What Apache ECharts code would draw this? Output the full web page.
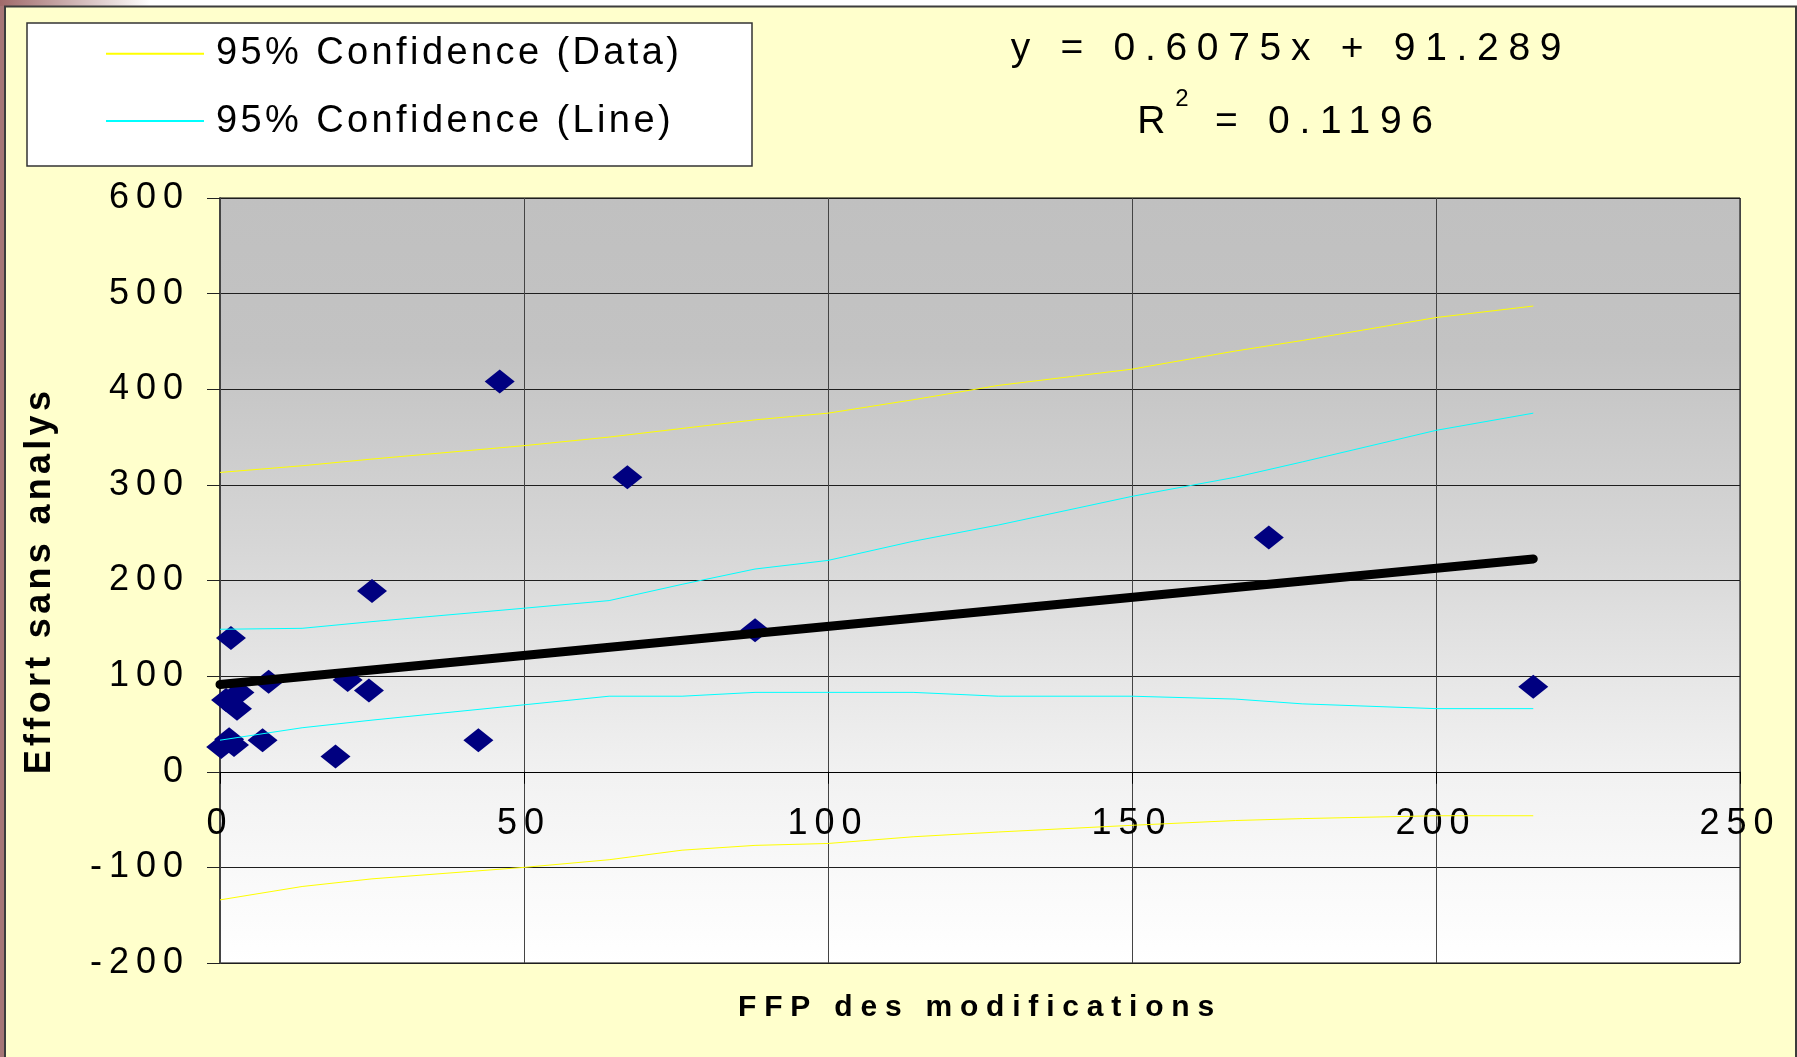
<!DOCTYPE html>
<html>
<head>
<meta charset="utf-8">
<title>FFP des modifications</title>
<script src="https://cdn.jsdelivr.net/npm/echarts@6/dist/echarts.min.js"></script>
<style>
  html, body { margin: 0; padding: 0; background: #ffffff; }
  #chart { width: 1797px; height: 1057px; }
</style>
</head>
<body>
<div id="chart"></div>
<script>
// ---- data -------------------------------------------------------------
// FFP size of each change and the effort spent without analysis
const ffp    = [46, 67, 25, 1.8, 88, 8, 21, 24.5, 1, 3.2, 2.8, 0.2, 1.5, 2.3, 7, 19, 42.5, 172.5, 216];
const effort = [408, 308, 189, 140, 148, 94, 96, 85, 75, 83, 66, 26, 34, 28, 33, 16, 33, 245, 89];

// least-squares fit shown on the chart
const slope = 0.6075;
const intercept = 91.289;
const rSquared = 0.1196;

// 95 % confidence bands sampled along the FFP axis
const bandFfp       = [0, 13.5, 25, 50, 64, 76, 88, 100, 114, 128, 150, 167, 178, 200, 216];
const dataBandUpper = [313, 320, 327, 341, 350, 359, 368, 375, 389, 404, 421, 440, 451, 475, 487];
const dataBandLower = [-134, -120, -112, -100, -92, -82, -77, -75, -68, -63, -56, -51, -49, -46, -46];
const lineBandUpper = [149, 150, 157, 171, 179, 196, 212, 221, 241, 258, 288, 308, 324, 357, 375];
const lineBandLower = [33, 46, 54, 70, 79, 79, 83, 83, 83, 79, 79, 76, 71, 66, 66];

// axis ranges
const xRange = { min: 0, max: 250, interval: 50 };
const yRange = { min: -200, max: 600, interval: 100 };

const xTitle = 'FFP des modifications';
const yTitle = 'Effort sans analys';
const bandDataName = '95% Confidence (Data)';
const bandLineName = '95% Confidence (Line)';

// ---- typography ---------------------------------------------------------
const FONT = '"Liberation Sans", Arial, Helvetica, sans-serif';

// Tracked lettering, keyed by font weight and size (px of extra spacing).
const TRACKING = [
  { bold: false, size: 36, px: 7 },    // tick labels
  { bold: false, size: 38, px: 3.4 },  // legend
  { bold: false, size: 39, px: 9.7 },  // fit equation
  { bold: false, size: 24, px: 6 },    // exponent
  { bold: true,  size: 30, px: 7.8 },  // x axis title
  { bold: true,  size: 36, px: 4.3 }   // y axis title
];
function trackingFor(font) {
  const m = /(\d+(?:\.\d+)?)px/.exec(font || '');
  if (!m) return 0;
  const size = parseFloat(m[1]);
  const bold = /bold|[6-9]00\s/.test(font);
  const t = TRACKING.find(e => e.size === size && e.bold === bold);
  return t ? t.px : 0;
}
const ctxProto = CanvasRenderingContext2D.prototype;
if ('letterSpacing' in ctxProto) {
  const fillText = ctxProto.fillText;
  const measureText = ctxProto.measureText;
  ctxProto.fillText = function (text, x, y, maxWidth) {
    this.letterSpacing = trackingFor(this.font) + 'px';
    return maxWidth === undefined
      ? fillText.call(this, text, x, y)
      : fillText.call(this, text, x, y, maxWidth);
  };
  ctxProto.measureText = function (text) {
    this.letterSpacing = trackingFor(this.font) + 'px';
    return measureText.call(this, text);
  };
}

// ---- series data ----------------------------------------------------------
const points = ffp.map((x, i) => [x, effort[i]]);
const fitEnd = Math.max(...ffp);
const fitLine = [[0, intercept], [fitEnd, slope * fitEnd + intercept]];
const pairs = ys => bandFfp.map((x, i) => [x, ys[i]]);

function bandSeries(name, ys, color) {
  return {
    name: name,
    type: 'line',
    data: pairs(ys),
    symbol: 'none',
    showSymbol: false,
    silent: true,
    clip: true,
    lineStyle: { color: color, width: 1 },
    itemStyle: { color: color }
  };
}

const chart = echarts.init(document.getElementById('chart'), null, { renderer: 'canvas' });

chart.setOption({
  animation: false,
  backgroundColor: '#ffffff',
  textStyle: { fontFamily: FONT },
  graphic: {
    elements: [
      // slide edge
      { type: 'rect', silent: true, z: -30, shape: { x: 0, y: 0, width: 5, height: 1057 },
        style: { fill: '#a67676' } },
      { type: 'rect', silent: true, z: -30, shape: { x: 0, y: 0, width: 150, height: 6 },
        style: { fill: new echarts.graphic.LinearGradient(0, 0, 1, 0, [
          { offset: 0, color: '#a06a6a' }, { offset: 1, color: '#ffffff' }]) } },
      // chart frame
      { type: 'rect', silent: true, z: -20, shape: { x: 5, y: 6.5, width: 1791, height: 1060 },
        style: { fill: '#ffffcc', stroke: '#3c3c3c', lineWidth: 2 } },
      // legend box
      { type: 'rect', silent: true, z: -10, shape: { x: 27, y: 23, width: 725, height: 143 },
        style: { fill: '#ffffff', stroke: '#333333', lineWidth: 1.5 } },
      // fit equation
      { type: 'text', silent: true, z: 10, x: 1291, y: 49,
        style: { text: 'y = ' + slope + 'x + ' + intercept, fontSize: 39, fontFamily: FONT,
          lineHeight: 39, fill: '#000', align: 'center', verticalAlign: 'middle' } },
      { type: 'text', silent: true, z: 10, x: 1290, y: 122,
        style: { text: '{r|R}{sup|2}{r| = ' + rSquared + '}', align: 'center', verticalAlign: 'middle',
          fill: '#000',
          rich: {
            r: { fontSize: 39, fontFamily: FONT, lineHeight: 39, fill: '#000' },
            sup: { fontSize: 24, fontFamily: FONT, lineHeight: 24, fill: '#000', padding: [0, 0, 46, 0] }
          } } }
    ]
  },
  legend: {
    data: [bandDataName, bandLineName],
    orient: 'vertical',
    left: 105,
    top: 33,
    padding: 0,
    itemWidth: 98,
    itemHeight: 14,
    itemGap: 26,
    selectedMode: false,
    itemStyle: { opacity: 0 },
    textStyle: { fontSize: 38, fontFamily: FONT, color: '#000', lineHeight: 40, padding: [0, 0, 0, 7] }
  },
  grid: {
    left: 220, right: 57, top: 198, bottom: 94,
    containLabel: false,
    outerBoundsMode: 'none',
    show: true,
    borderColor: '#000',
    borderWidth: 1,
    backgroundColor: new echarts.graphic.LinearGradient(0, 0, 0, 1, [
      { offset: 0, color: '#c0c0c0' },
      { offset: 0.2, color: '#c3c3c3' },
      { offset: 0.45, color: '#d6d6d6' },
      { offset: 0.62, color: '#e6e6e6' },
      { offset: 0.76, color: '#f2f2f2' },
      { offset: 0.9, color: '#fafafa' },
      { offset: 1, color: '#ffffff' }
    ])
  },
  xAxis: {
    type: 'value',
    min: xRange.min, max: xRange.max, interval: xRange.interval,
    position: 'bottom',
    offset: 0,
    name: xTitle,
    nameLocation: 'middle',
    nameGap: 221,
    nameTextStyle: { fontSize: 30, fontWeight: 'bold', fontFamily: FONT, color: '#000', lineHeight: 30 },
    axisLine: { show: true, onZero: false, lineStyle: { color: '#000', width: 1 } },
    axisTick: { show: true, inside: false, length: 12, lineStyle: { color: '#000', width: 1 } },
    axisLabel: { margin: 34, fontSize: 36, fontFamily: FONT, color: '#000', lineHeight: 36 },
    splitLine: { show: true, lineStyle: { color: '#444', width: 1 } }
  },
  yAxis: {
    type: 'value',
    min: yRange.min, max: yRange.max, interval: yRange.interval,
    name: yTitle,
    nameLocation: 'middle',
    nameGap: 162,
    nameTextStyle: { fontSize: 36, fontWeight: 'bold', fontFamily: FONT, color: '#000', lineHeight: 36 },
    axisLine: { show: true, onZero: false, lineStyle: { color: '#444', width: 2 } },
    axisTick: { show: true, inside: false, length: 13, lineStyle: { color: '#222', width: 1 } },
    axisLabel: { margin: 30, fontSize: 36, fontFamily: FONT, color: '#000', lineHeight: 36 },
    splitLine: { show: true, lineStyle: { color: '#1e1e1e', width: 1 } }
  },
  series: [
    bandSeries(bandDataName, dataBandUpper, '#ffff00'),
    bandSeries(bandDataName, dataBandLower, '#ffff00'),
    bandSeries(bandLineName, lineBandUpper, '#00ffff'),
    bandSeries(bandLineName, lineBandLower, '#00ffff'),
    {
      name: 'Effort',
      type: 'scatter',
      data: points,
      symbol: 'diamond',
      symbolSize: [30, 24],
      silent: true,
      itemStyle: { color: '#000080', opacity: 1 }
    },
    {
      name: 'Fit',
      type: 'line',
      data: fitLine,
      symbol: 'none',
      showSymbol: false,
      silent: true,
      clip: true,
      lineStyle: { color: '#000', width: 9, cap: 'round' }
    }
  ]
});

// The FFP axis crosses the effort axis at zero effort: lift it from the
// bottom edge of the plot up to the zero line given by the effort scale.
const zeroY = chart.convertToPixel({ yAxisIndex: 0 }, 0);
const floorY = chart.convertToPixel({ yAxisIndex: 0 }, yRange.min);
chart.setOption({ xAxis: { offset: zeroY - floorY } });
</script>
</body>
</html>
